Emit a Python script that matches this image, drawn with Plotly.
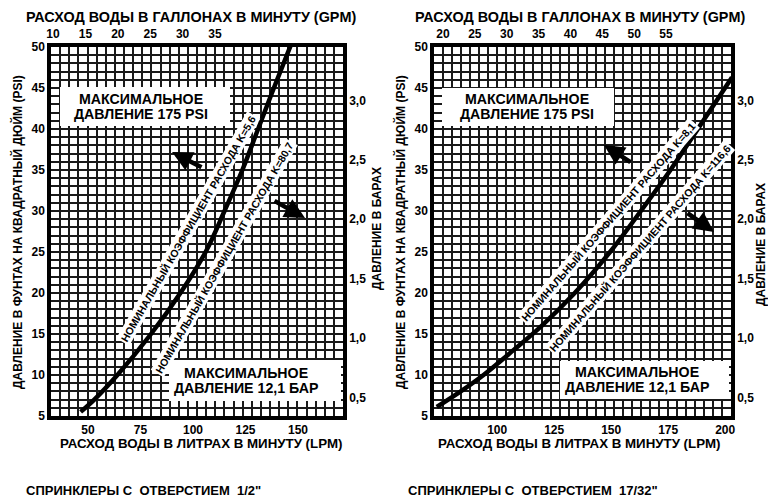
import plotly.graph_objects as go

W, H = 768, 498

# ---------------- data ----------------
left_psi = [5.5, 7, 10, 15, 20, 25, 30, 35, 40, 45, 50.5]
left_lpm = [46.5, 53, 64, 80, 94, 106, 115, 123.5, 131, 138.5, 147]

right_psi = [6.1, 8, 10, 13, 16, 20, 25, 30, 35, 40, 44, 46.3]
right_lpm = [73.5, 84, 94, 107, 119.5, 134, 149.5, 163, 176, 188, 197.5, 203]

psi_ticks = [5, 10, 15, 20, 25, 30, 35, 40, 45, 50]
bar_ticks = [0.5, 1.0, 1.5, 2.0, 2.5, 3.0]
bar_labels = ["0,5", "1,0", "1,5", "2,0", "2,5", "3,0"]
left_lpm_ticks = [50, 75, 100, 125, 150]
left_gpm_ticks = [10, 15, 20, 25, 30, 35]
right_lpm_ticks = [100, 125, 150, 175, 200]
right_gpm_ticks = [20, 25, 30, 35, 40, 45, 50, 55]

PSI_PER_BAR = 14.5

FONT = "Liberation Sans, Arial, sans-serif"
GC = "#1a1a1a"
GW = 1.8
LW = 3.5


def px(x, y):
    return x / W, 1 - y / H


# plot area geometry (pixels)
L_X0, L_X1 = 51, 343
R_X0, R_X1 = 434, 731
Y0, Y1 = 47, 416
ydom = [1 - Y1 / H, 1 - Y0 / H]

# ranges
l_lpm_rng = [50 - (88 - L_X0) / 2.1, 150 + (L_X1 - 298) / 2.1]
l_gpm_rng = [10 - (53 - L_X0) / 6.48, 35 + (L_X1 - 215) / 6.48]
r_lpm_rng = [100 - (497.2 - R_X0) / 2.28, 200 + (R_X1 - 725.2) / 2.28]
r_gpm_rng = [20 - (443 - R_X0) / 6.371, 55 + (R_X1 - 666) / 6.371]
psi_rng = [5, 50]
bar_rng = [5 / PSI_PER_BAR, 50 / PSI_PER_BAR]

tickfont = dict(family=FONT, size=12, color="black", weight="bold")

fig = go.Figure()

fig.add_trace(go.Scatter(x=left_lpm, y=left_psi, mode="lines", xaxis="x", yaxis="y",
                         line=dict(color="black", width=4.5, shape="spline"), hoverinfo="skip"))
fig.add_trace(go.Scatter(x=right_lpm, y=right_psi, mode="lines", xaxis="x3", yaxis="y3",
                         line=dict(color="black", width=4.5, shape="spline"), hoverinfo="skip"))
# empty traces to register overlay axes
fig.add_trace(go.Scatter(x=[None], y=[None], xaxis="x2", yaxis="y2", hoverinfo="skip"))
fig.add_trace(go.Scatter(x=[None], y=[None], xaxis="x4", yaxis="y4", hoverinfo="skip"))

COMMON = dict(automargin=False, zeroline=False, showline=True, linecolor="black",
              linewidth=LW, ticks="", tickfont=tickfont, fixedrange=True)


def xgrid_axis(dom, rng, ticks, ncell, anchor):
    return dict(domain=dom, range=rng, anchor=anchor, tickmode="array", tickvals=ticks,
                showgrid=False,
                minor=dict(tick0=rng[0], dtick=(rng[1] - rng[0]) / ncell, showgrid=True,
                           gridcolor=GC, gridwidth=GW, ticks=""), **COMMON)


def ygrid_axis(anchor):
    return dict(domain=ydom, range=psi_rng, anchor=anchor, tickmode="array", tickvals=psi_ticks,
                showgrid=True, gridcolor=GC, gridwidth=GW,
                minor=dict(dtick=1, tick0=5, showgrid=True, gridcolor=GC, gridwidth=GW, ticks=""),
                **COMMON)


def top_axis(rng, ticks, over, anchor):
    return dict(range=rng, overlaying=over, anchor=anchor, side="top", tickmode="array",
                tickvals=ticks, showgrid=False, **COMMON)


def bar_axis(over, anchor):
    return dict(range=bar_rng, overlaying=over, anchor=anchor, side="right", tickmode="array",
                tickvals=bar_ticks, ticktext=bar_labels, showgrid=False, **COMMON)


fig.update_layout(
    width=W, height=H, margin=dict(l=0, r=0, t=0, b=0, autoexpand=False),
    paper_bgcolor="white", plot_bgcolor="white", showlegend=False,
    xaxis=xgrid_axis([L_X0 / W, L_X1 / W], l_lpm_rng, left_lpm_ticks, 32, "y"),
    yaxis=ygrid_axis("x"),
    xaxis2=top_axis(l_gpm_rng, left_gpm_ticks, "x", "y"),
    yaxis2=bar_axis("y", "x"),
    xaxis3=xgrid_axis([R_X0 / W, R_X1 / W], r_lpm_rng, right_lpm_ticks, 33, "y3"),
    yaxis3=ygrid_axis("x3"),
    xaxis4=top_axis(r_gpm_rng, right_gpm_ticks, "x3", "y3"),
    yaxis4=bar_axis("y3", "x3"),
)

# white boxes (cover grid)
boxes = [(60, 87, 230, 126), (169, 360, 341, 401), (442, 88, 614, 126), (560, 361, 729, 399)]
for x0, y0, x1, y1 in boxes:
    a0 = px(x0, y1)
    a1 = px(x1, y0)
    fig.add_shape(type="rect", xref="paper", yref="paper", x0=a0[0], y0=a0[1], x1=a1[0], y1=a1[1],
                  fillcolor="white", line=dict(width=0), layer="above")

anns = []


def text(x, y, s, size=12, angle=0, bg=None, xanchor="center"):
    xp, yp = px(x, y)
    d = dict(x=xp, y=yp, xref="paper", yref="paper", text=s, showarrow=False,
             xanchor=xanchor, yanchor="middle", textangle=angle,
             font=dict(family=FONT, size=size, color="black", weight="bold"))
    if bg:
        d.update(bgcolor=bg, borderpad=1)
    anns.append(d)


def arrow(tx, ty, hx, hy):
    xp, yp = px(hx, hy)
    anns.append(dict(x=xp, y=yp, xref="paper", yref="paper", text="", showarrow=True,
                     ax=tx - hx, ay=ty - hy, arrowhead=2, arrowsize=0.9, arrowwidth=4.5,
                     arrowcolor="black"))


NB = "\u00a0"
# top titles
text(191, 17, "РАСХОД ВОДЫ В ГАЛЛОНАХ В МИНУТУ (GPM)", 14.4)
text(580, 17, "РАСХОД ВОДЫ В ГАЛЛОНАХ В МИНУТУ (GPM)", 14.4)
# bottom axis titles
text(201, 443, "РАСХОД ВОДЫ В ЛИТРАХ В МИНУТУ (LPM)", 13.3)
text(579, 443, "РАСХОД ВОДЫ В ЛИТРАХ В МИНУТУ (LPM)", 13.3)
# captions
text(143, 490, "СПРИНКЛЕРЫ С" + NB + " ОТВЕРСТИЕМ" + NB + " 1/2\"", 13)
text(533, 490, "СПРИНКЛЕРЫ С" + NB + " ОТВЕРСТИЕМ" + NB + " 17/32\"", 13)
# y titles
text(17, 232, "ДАВЛЕНИЕ В ФУНТАХ НА КВАДРАТНЫЙ ДЮЙМ (PSI)", 12, -90)
text(400, 232, "ДАВЛЕНИЕ В ФУНТАХ НА КВАДРАТНЫЙ ДЮЙМ (PSI)", 12, -90)
text(377, 229, "ДАВЛЕНИЕ В БАРАХ", 12, -90)
text(761, 245, "ДАВЛЕНИЕ В БАРАХ", 12, -90)
# boxes text
text(141, 99, "МАКСИМАЛЬНОЕ", 14.2)
text(141, 114, "ДАВЛЕНИЕ 175 PSI", 14.2)
text(527, 99, "МАКСИМАЛЬНОЕ", 14.2)
text(527, 114, "ДАВЛЕНИЕ 175 PSI", 14.2)
text(246, 373, "МАКСИМАЛЬНОЕ", 14.2)
text(246, 388, "ДАВЛЕНИЕ 12,1 БАР", 14.2)
text(637, 372, "МАКСИМАЛЬНОЕ", 14.2)
text(637, 387, "ДАВЛЕНИЕ 12,1 БАР", 14.2)
# curve labels
text(188, 229, "НОМИНАЛЬНЫЙ КОЭФФИЦИЕНТ РАСХОДА K=5,6", 10.5, -60, "white")
text(224, 258, "НОМИНАЛЬНЫЙ КОЭФФИЦИЕНТ РАСХОДА K=80,7", 10.5, -60, "white")
text(608, 222, "НОМИНАЛЬНЫЙ КОЭФФИЦИЕНТ РАСХОДА K=8,1", 10.5, -49, "white")
text(640, 248, "НОМИНАЛЬНЫЙ КОЭФФИЦИЕНТ РАСХОДА K=116,6", 10.5, -49, "white")
# arrows
arrow(203, 168, 172, 152)
arrow(273, 200, 305, 218)
arrow(632, 163, 604, 145)
arrow(686, 212, 714, 232)

fig.update_layout(annotations=anns)
fig.write_html("out.html", config={"displayModeBar": False},
               post_script="document.body.style.margin='0px';")
